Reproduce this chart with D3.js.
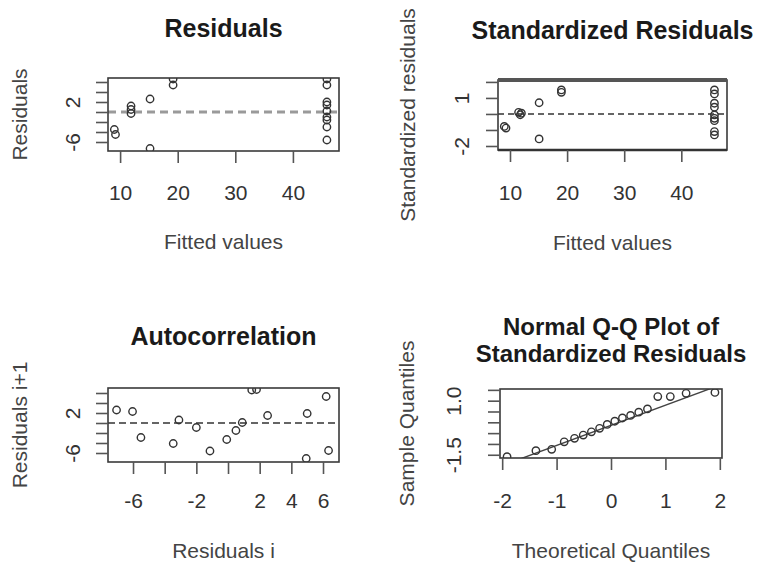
<!DOCTYPE html>
<html>
<head>
<meta charset="utf-8">
<script src="https://cdn.jsdelivr.net/npm/d3@7"></script>
<style>
  body { margin: 0; background: #fff; }
  svg { display: block; font-family: "Liberation Sans", Arial, sans-serif; }
</style>
</head>
<body>
<svg id="chart" width="760" height="565"></svg>
<script>
// Residuals vs fitted values
const resFitted = [9.0, 9.2, 11.9, 11.9, 11.9, 15.2, 15.2, 19.2, 19.2,
                   45.9, 45.9, 45.9, 45.9, 45.9, 45.9, 45.9, 45.9, 45.9];
const resValues = [-3.5, -4.5, 1.2, 0.5, -0.3, 2.6, -7.3, 5.4, 6.6,
                   6.6, 5.4, 2.0, 1.4, 0.2, -1.0, -1.6, -3.0, -5.6];

// Standardized residuals vs fitted values
const stdFitted = [9.0, 9.3, 11.5, 12.0, 11.8, 15.1, 15.1, 19.0, 19.0,
                   45.8, 45.8, 45.8, 45.8, 45.8, 45.8, 45.8, 45.8, 45.8];
const stdValues = [-0.78, -0.88, 0.1, 0.05, -0.05, 0.7, -1.56, 1.5, 1.35,
                   1.5, 1.25, 0.67, 0.42, -0.06, -0.27, -0.42, -1.1, -1.31];

// Lag-1 pairs of residuals
const lagCurrent = [-7.04, -6.03, -5.5, -3.46, -3.1, -2.0, -1.14, -0.08, 0.5,
                    0.9, 1.5, 1.8, 2.5, 5.0, 4.94, 6.2, 6.35];
const lagNext = [2.6, 2.3, -2.9, -4.1, 0.6, -0.9, -5.6, -3.3, -1.5,
                 0.1, 6.6, 6.7, 1.5, 1.9, -7.1, 5.3, -5.5];

// Normal Q-Q of standardized residuals
const qqTheoretical = [-1.91, -1.38, -1.09, -0.86, -0.67, -0.51, -0.36, -0.21, -0.07,
                       0.07, 0.21, 0.36, 0.51, 0.67, 0.86, 1.09, 1.38, 1.91];
const qqSample = [-1.59, -1.31, -1.25, -0.90, -0.74, -0.59, -0.44, -0.28, -0.10,
                  0.05, 0.20, 0.32, 0.47, 0.62, 1.19, 1.19, 1.34, 1.38];
const qqLineCoef = [-0.14, 0.93]; // intercept, slope

// Axis ticks and their labels (empty label = tick without text)
const fittedTicks = [10, 20, 30, 40];
const fittedTickLabels = ["10", "20", "30", "40"];
const residTicks = [-6, -4, -2, 0, 2, 4, 6];
const residTickLabels = ["-6", "", "", "", "2", "", ""];
const stdTicks = [-2, -1, 0, 1, 2];
const stdTickLabels = ["-2", "", "", "1", ""];
const lagTicks = [-6, -4, -2, 0, 2, 4, 6];
const lagTickLabels = ["-6", "", "-2", "", "2", "4", "6"];
const theoTicks = [-2, -1, 0, 1, 2];
const theoTickLabels = ["-2", "-1", "0", "1", "2"];
const sampleTicks = [-1.5, -1, -0.5, 0, 0.5, 1, 1.5];
const sampleTickLabels = ["-1.5", "", "", "", "", "1.0", ""];

const svg = d3.select("#chart");
let clipCount = 0;

function drawPanel(p) {
  const g = svg.append("g");
  const x = d3.scaleLinear().domain(p.xDomain).range([p.left, p.right]);
  const y = d3.scaleLinear().domain(p.yDomain).range([p.bottom, p.top]);

  const clipId = "clip" + (clipCount++);
  g.append("clipPath").attr("id", clipId)
    .append("rect")
    .attr("x", p.left).attr("y", p.top)
    .attr("width", p.right - p.left).attr("height", p.bottom - p.top);
  const plot = g.append("g").attr("clip-path", `url(#${clipId})`);

  // reference line
  if (p.hline !== undefined) {
    plot.append("line")
      .attr("x1", p.left).attr("x2", p.right)
      .attr("y1", y(p.hline)).attr("y2", y(p.hline))
      .attr("stroke", p.hlineColor).attr("stroke-width", p.hlineWidth)
      .attr("stroke-dasharray", p.hlineDash);
  }
  if (p.abline) {
    const [a, b] = p.abline;
    const [x0, x1] = p.xDomain;
    plot.append("line")
      .attr("x1", x(x0)).attr("y1", y(a + b * x0))
      .attr("x2", x(x1)).attr("y2", y(a + b * x1))
      .attr("stroke", "#444").attr("stroke-width", 1.4);
  }

  // points
  plot.selectAll("circle.pt").data(p.xs.map((v, i) => [v, p.ys[i]]))
    .join("circle").attr("class", "pt")
    .attr("cx", d => x(d[0])).attr("cy", d => y(d[1]))
    .attr("r", 3.7)
    .attr("fill", "none").attr("stroke", "#333").attr("stroke-width", 1.4);

  // plot box
  g.append("rect")
    .attr("x", p.left).attr("y", p.top)
    .attr("width", p.right - p.left).attr("height", p.bottom - p.top)
    .attr("fill", "none").attr("stroke", "#3a3a3a").attr("stroke-width", 1.6);
  if (p.thickTop) {
    g.append("line")
      .attr("x1", p.left).attr("x2", p.right)
      .attr("y1", p.top).attr("y2", p.top)
      .attr("stroke", "#555").attr("stroke-width", 4);
    g.append("line")
      .attr("x1", p.left).attr("x2", p.right)
      .attr("y1", p.bottom).attr("y2", p.bottom)
      .attr("stroke", "#333").attr("stroke-width", 2.6);
  }

  // x axis
  const xa = g.append("g").attr("transform", `translate(0,${p.bottom})`)
    .call(d3.axisBottom(x).tickValues(p.xTicks)
      .tickFormat((d, i) => p.xTickLabels[i]).tickSize(12));
  xa.select(".domain").remove();
  xa.selectAll(".tick line").attr("stroke", "#555").attr("stroke-width", 1.6);
  xa.selectAll(".tick text")
    .attr("y", p.xLabelOffset).attr("dy", null)
    .attr("fill", "#333").style("font-size", "21px")
    .style("font-family", "'Liberation Sans', Arial, sans-serif");

  // y axis (labels parallel to the axis)
  const ya = g.append("g").attr("transform", `translate(${p.left},0)`)
    .call(d3.axisLeft(y).tickValues(p.yTicks)
      .tickFormat((d, i) => p.yTickLabels[i]).tickSize(12));
  ya.select(".domain").remove();
  ya.selectAll(".tick line").attr("stroke", "#555").attr("stroke-width", 1.6);
  ya.selectAll(".tick text")
    .attr("transform", "rotate(-90)")
    .attr("x", 0).attr("y", -p.yLabelOffset).attr("dy", null)
    .attr("text-anchor", "middle")
    .attr("fill", "#333").style("font-size", "21px")
    .style("font-family", "'Liberation Sans', Arial, sans-serif");

  const cx = (p.left + p.right) / 2;
  const cy = (p.top + p.bottom) / 2;

  // title
  p.title.forEach((t, i) => {
    g.append("text")
      .attr("x", cx).attr("y", p.titleY[i])
      .attr("text-anchor", "middle")
      .attr("font-weight", "bold").attr("font-size", p.titleSize || 25)
      .attr("fill", "#1a1a1a")
      .text(t);
  });

  // axis titles
  g.append("text")
    .attr("x", cx).attr("y", p.xTitleY)
    .attr("text-anchor", "middle").attr("font-size", 21).attr("fill", "#444")
    .text(p.xTitle);
  g.append("text")
    .attr("transform", `translate(${p.yTitleX},${cy}) rotate(-90)`)
    .attr("text-anchor", "middle").attr("font-size", 21).attr("fill", "#444")
    .text(p.yTitle);
}

drawPanel({
  left: 108, right: 339, top: 78, bottom: 151,
  xDomain: [7.9, 48.0], yDomain: [-7.8, 6.8],
  xs: resFitted, ys: resValues,
  hline: 0, hlineColor: "#9a9a9a", hlineWidth: 3, hlineDash: "8,5",
  xTicks: fittedTicks, xTickLabels: fittedTickLabels,
  yTicks: residTicks, yTickLabels: residTickLabels,
  xLabelOffset: 49, yLabelOffset: 28,
  title: ["Residuals"], titleY: [37],
  xTitle: "Fitted values", xTitleY: 249,
  yTitle: "Residuals", yTitleX: 27
});

drawPanel({
  left: 498, right: 727, top: 80, bottom: 150,
  xDomain: [7.9, 48.0], yDomain: [-2.25, 2.12],
  xs: stdFitted, ys: stdValues,
  hline: 0, hlineColor: "#333", hlineWidth: 1.5, hlineDash: "6,4",
  thickTop: true,
  xTicks: fittedTicks, xTickLabels: fittedTickLabels,
  yTicks: stdTicks, yTickLabels: stdTickLabels,
  xLabelOffset: 50, yLabelOffset: 29,
  title: ["Standardized Residuals"], titleY: [39],
  xTitle: "Fitted values", xTitleY: 250,
  yTitle: "Standardized residuals", yTitleX: 415
});

drawPanel({
  left: 108, right: 339, top: 388, bottom: 462,
  xDomain: [-7.58, 7.01], yDomain: [-7.8, 7.0],
  xs: lagCurrent, ys: lagNext,
  hline: 0, hlineColor: "#333", hlineWidth: 1.5, hlineDash: "7,4",
  xTicks: lagTicks, xTickLabels: lagTickLabels,
  yTicks: residTicks, yTickLabels: residTickLabels,
  xLabelOffset: 46, yLabelOffset: 28,
  title: ["Autocorrelation"], titleY: [345],
  xTitle: "Residuals i", xTitleY: 558,
  yTitle: "Residuals i+1", yTitleX: 27
});

drawPanel({
  left: 500, right: 722, top: 389, bottom: 458,
  xDomain: [-2.04, 2.04], yDomain: [-1.65, 1.54],
  xs: qqTheoretical, ys: qqSample,
  abline: qqLineCoef,
  xTicks: theoTicks, xTickLabels: theoTickLabels,
  yTicks: sampleTicks, yTickLabels: sampleTickLabels,
  xLabelOffset: 50, yLabelOffset: 39,
  title: ["Normal Q-Q Plot of", "Standardized Residuals"], titleY: [335, 362],
  titleSize: 24,
  xTitle: "Theoretical Quantiles", xTitleY: 558,
  yTitle: "Sample Quantiles", yTitleX: 414
});
</script>
</body>
</html>
